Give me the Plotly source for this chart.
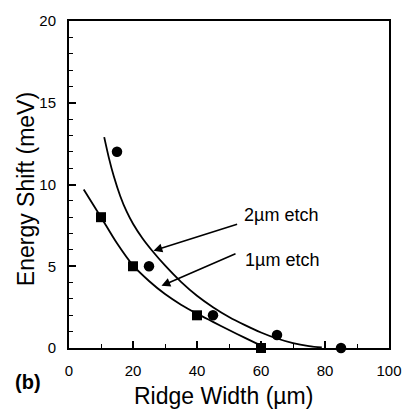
import plotly.graph_objects as go

# Measured data points
w_1um = [10, 20, 40, 60]
e_1um = [8, 5, 2, 0]
w_2um = [15, 25, 45, 65, 85]
e_2um = [12, 5, 2, 0.8, 0]

# Fitted curves
fit1_x = [4.6, 10, 15, 20, 25, 30, 35, 40, 45, 50, 55, 60, 61.5]
fit1_y = [9.7, 8.0, 6.4, 5.05, 4.1, 3.3, 2.65, 2.1, 1.6, 1.1, 0.62, 0.15, 0.02]
fit2_x = [11, 12.5, 14, 16, 18, 20, 23, 26, 30, 35, 40, 45, 50, 55, 60, 65, 70, 75, 79]
fit2_y = [12.9, 11.6, 10.5, 9.3, 8.35, 7.6, 6.7, 5.95, 5.05, 4.05, 3.2, 2.5, 1.9, 1.4, 0.95, 0.58, 0.3, 0.12, 0.03]

labels = ["2\u00b5m etch", "1\u00b5m etch"]
label_x = [54.0, 54.5]
label_y = [8.15, 5.4]
arrow_tip_x = [26.4, 28.9]
arrow_tip_y = [5.95, 3.8]
arrow_tail_x = [53.0, 52.5]
arrow_tail_y = [7.6, 5.8]

FONT = "Liberation Sans, Arial, Helvetica, sans-serif"

fig = go.Figure()
fig.add_trace(go.Scatter(x=fit1_x, y=fit1_y, mode="lines",
                         line=dict(color="black", width=1.8, shape="spline", smoothing=0.8),
                         hoverinfo="skip", showlegend=False))
fig.add_trace(go.Scatter(x=fit2_x, y=fit2_y, mode="lines",
                         line=dict(color="black", width=1.8, shape="spline", smoothing=0.8),
                         hoverinfo="skip", showlegend=False))
fig.add_trace(go.Scatter(x=w_1um, y=e_1um, mode="markers", name="1\u00b5m etch",
                         marker=dict(symbol="square", size=10, color="black"),
                         cliponaxis=False, showlegend=False))
fig.add_trace(go.Scatter(x=w_2um, y=e_2um, mode="markers", name="2\u00b5m etch",
                         marker=dict(symbol="circle", size=10.5, color="black"),
                         cliponaxis=False, showlegend=False))

annotations = []
for i in range(2):
    annotations.append(dict(x=arrow_tip_x[i], y=arrow_tip_y[i], ax=arrow_tail_x[i], ay=arrow_tail_y[i],
                            xref="x", yref="y", axref="x", ayref="y", text="", showarrow=True,
                            arrowhead=2, arrowsize=1.1, arrowwidth=1.6, arrowcolor="black", standoff=0))
    annotations.append(dict(x=label_x[i], y=label_y[i], xref="x", yref="y", text=labels[i],
                            showarrow=False, xanchor="left", yanchor="middle",
                            font=dict(family=FONT, size=18, color="black")))

annotations.append(dict(x=0.482, y=-0.1476, xref="paper", yref="paper", text="Ridge Width (\u00b5m)",
                        showarrow=False, xanchor="center", yanchor="middle",
                        font=dict(family=FONT, size=23, color="black")))
annotations.append(dict(x=-0.134, y=0.486, xref="paper", yref="paper", text="Energy Shift (meV)",
                        showarrow=False, xanchor="center", yanchor="middle", textangle=-90,
                        font=dict(family=FONT, size=23, color="black")))
annotations.append(dict(x=-0.129, y=-0.105, xref="paper", yref="paper", text="<b>(b)</b>",
                        showarrow=False, xanchor="center", yanchor="middle",
                        font=dict(family=FONT, size=20, color="black")))

axis_common = dict(showgrid=False, zeroline=False, showline=True, linecolor="black", linewidth=2,
                   mirror=True, ticks="inside", tickcolor="black", tickwidth=1.5, ticklen=7,
                   tickfont=dict(family=FONT, size=15, color="black"))

fig.update_layout(
    width=414, height=410,
    margin=dict(l=69, r=16, t=16, b=62),
    paper_bgcolor="white", plot_bgcolor="white",
    showlegend=False,
    annotations=annotations,
    xaxis=dict(range=[0, 100], dtick=20, tick0=0, ticklabelstandoff=8,
               minor=dict(dtick=10, ticks="inside", ticklen=4, tickcolor="black", tickwidth=1.2),
               **axis_common),
    yaxis=dict(range=[0, 20], dtick=5, tick0=0, ticklabelstandoff=8,
               minor=dict(dtick=1, ticks="inside", ticklen=4, tickcolor="black", tickwidth=1.2),
               **axis_common),
)

fig.write_html("out.html", config={"displayModeBar": False},
               post_script="document.body.style.margin='0px';document.body.style.padding='0px';")
